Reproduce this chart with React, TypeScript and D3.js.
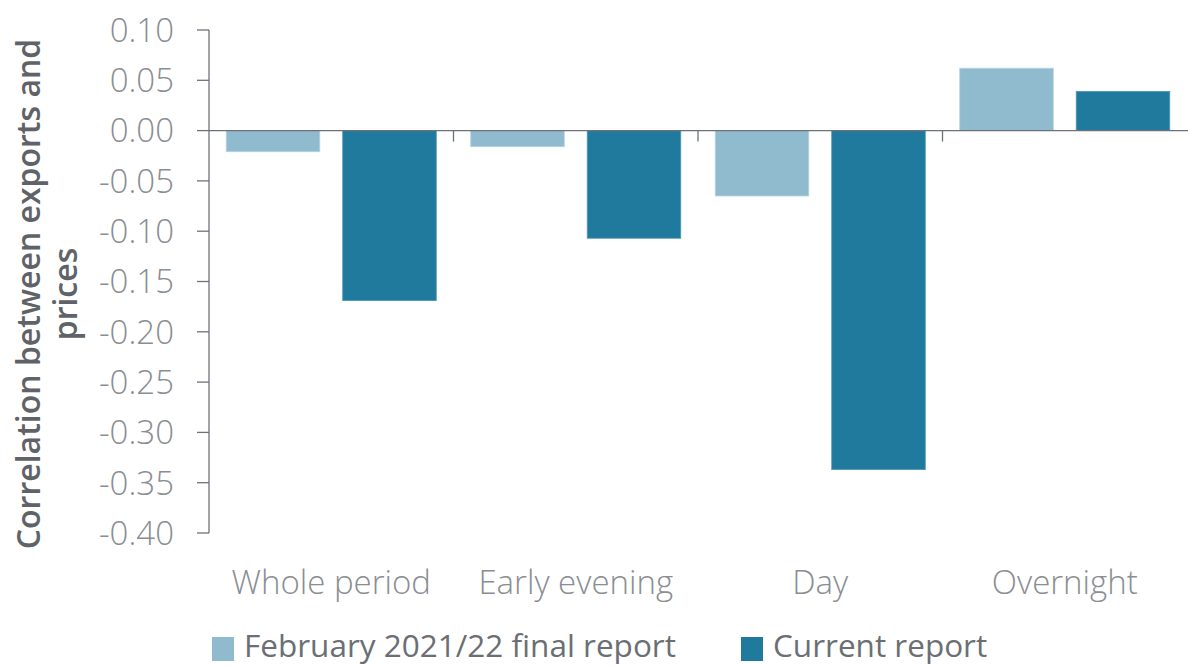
import React from "react";
import * as d3 from "d3";

const categories = ["Whole period", "Early evening", "Day", "Overnight"];
const seriesNames = ["February 2021/22 final report", "Current report"];
const febValues = [-0.021, -0.016, -0.065, 0.062];
const currentValues = [-0.169, -0.107, -0.337, 0.039];
const yTicks = [0.1, 0.05, 0, -0.05, -0.1, -0.15, -0.2, -0.25, -0.3, -0.35, -0.4];
const colors = ["#90bbcf", "#1f7a9e"];

const W = 1188;
const H = 666;
const left = 209;
const right = 1187;
const top = 30;
const bottom = 533;

export default function App() {
  const x = d3.scaleBand<string>().domain(categories).range([left, right]).paddingInner(0).paddingOuter(0);
  const inner = d3.scaleBand<string>().domain(["0", "1"]).range([0, x.bandwidth()]).paddingInner(0.197).paddingOuter(0.148);
  const y = d3.scaleLinear().domain([-0.4, 0.1]).range([bottom, top]);
  const y0 = y(0);
  const series = [febValues, currentValues];
  const axisColor = "#6d727a";
  const font = "'Open Sans', sans-serif";

  return (
    <svg width={W} height={H} style={{ position: "absolute", left: 0, top: 0 }} fontFamily={font}>
      {/* bars */}
      {series.map((vals, si) =>
        vals.map((v, ci) => {
          const bx = (x(categories[ci]) as number) + (inner(String(si)) as number);
          const yv = y(v);
          return (
            <rect
              key={`${si}-${ci}`}
              x={bx}
              y={Math.min(yv, y0)}
              width={inner.bandwidth()}
              height={Math.abs(yv - y0)}
              fill={colors[si]}
              stroke={si === 0 ? "#b3d3e1" : "#4f97b5"}
              strokeWidth={0.8}
            />
          );
        })
      )}
      {/* y axis */}
      <line x1={left} x2={left} y1={top} y2={bottom} stroke={axisColor} strokeWidth={1.3} />
      {yTicks.map((t) => (
        <g key={t}>
          <line x1={left - 12} x2={left} y1={y(t)} y2={y(t)} stroke={axisColor} strokeWidth={1.3} />
          <text
            x={174}
            y={y(t)}
            dy="0.36em"
            textAnchor="end"
            fontSize={33}
            fontWeight={300}
            fill="#8a8d92"
          >
            {t.toFixed(2)}
          </text>
        </g>
      ))}
      {/* zero line */}
      <line x1={left} x2={W} y1={y0} y2={y0} stroke={axisColor} strokeWidth={1.3} />
      {/* category ticks */}
      {categories.slice(1).map((c) => (
        <line key={c} x1={x(c) as number} x2={x(c) as number} y1={y0} y2={y0 + 11} stroke={axisColor} strokeWidth={1.3} />
      ))}
      {/* x labels */}
      {categories.map((c) => (
        <text
          key={c}
          x={(x(c) as number) + x.bandwidth() / 2}
          y={594}
          textAnchor="middle"
          fontSize={33}
          fontWeight={300}
          fill="#8a8d92"
        >
          {c}
        </text>
      ))}
      {/* y title */}
      <text
        transform={`translate(40, 294) rotate(-90)`}
        textAnchor="middle"
        fontSize={32}
        fontWeight={600}
        fill="#5f6368"
      >
        <tspan x={0} dy={0}>Correlation between exports and</tspan>
        <tspan x={0} dy={37}>prices</tspan>
      </text>
      {/* legend */}
      {[{ x: 212, name: seriesNames[0], c: colors[0] }, { x: 741, name: seriesNames[1], c: colors[1] }].map((l) => (
        <g key={l.name}>
          <rect x={l.x} y={637} width={22} height={24} fill={l.c} />
          <text x={l.x + 32} y={657} fontSize={31.5} fontWeight={400} fill="#6b6f74">
            {l.name}
          </text>
        </g>
      ))}
    </svg>
  );
}
